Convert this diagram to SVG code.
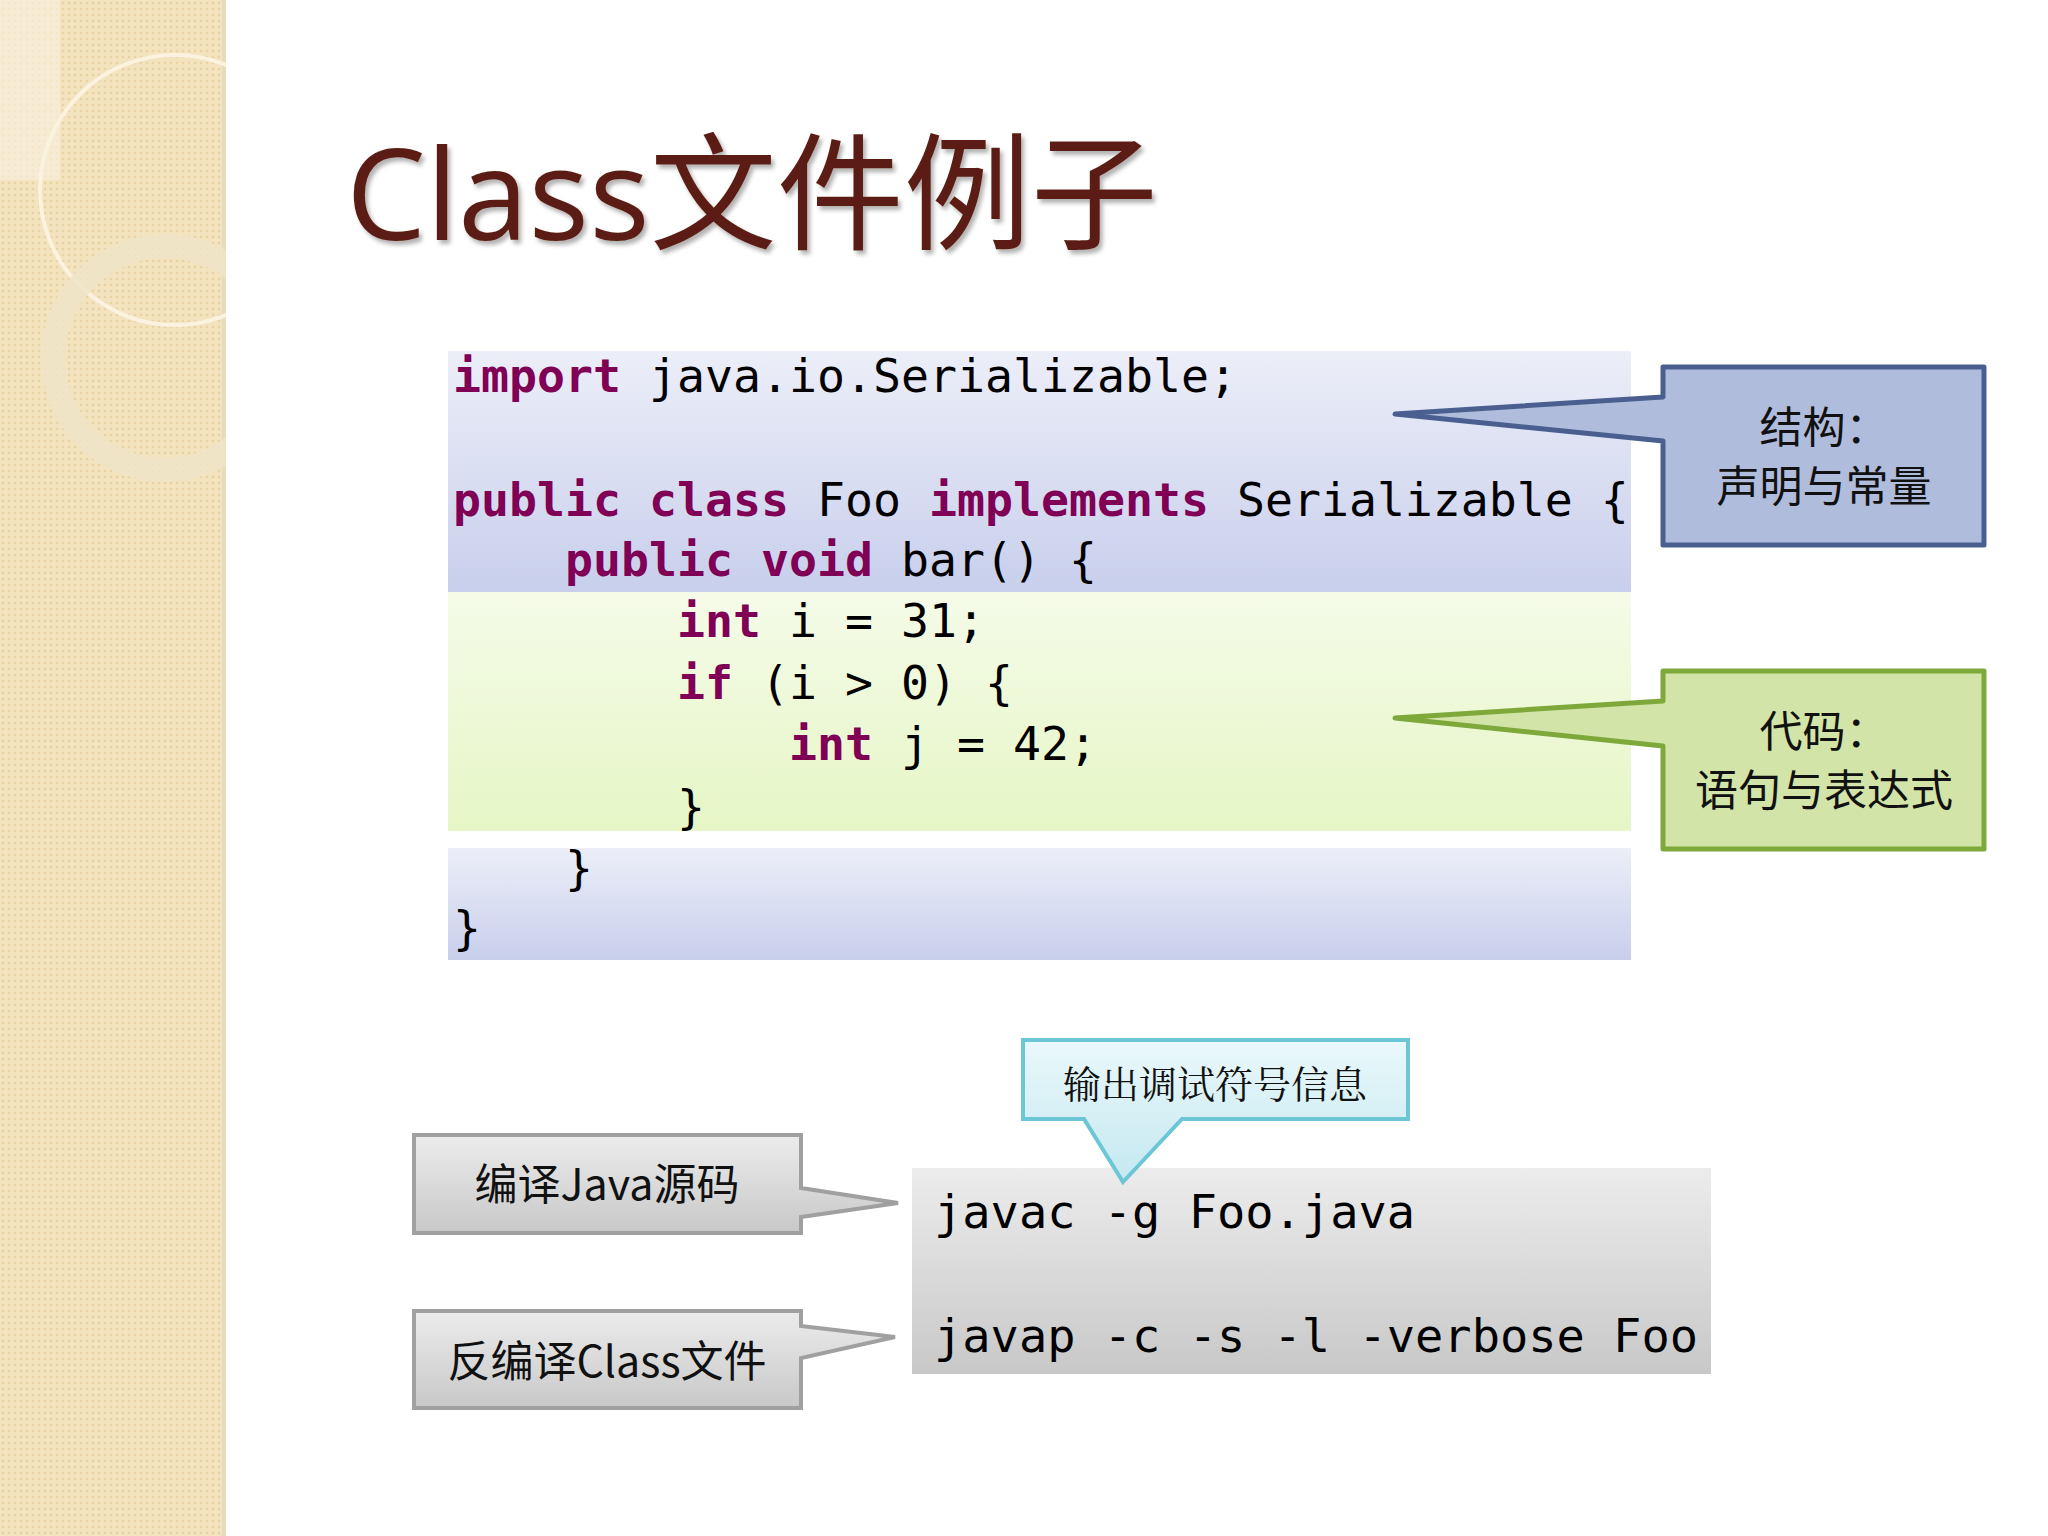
<svg xmlns="http://www.w3.org/2000/svg" width="2048" height="1536" viewBox="0 0 2048 1536">
<defs>
<linearGradient id="gb" x1="0" y1="0" x2="0" y2="1"><stop offset="0" stop-color="#eceef8"/><stop offset="1" stop-color="#c8cfec"/></linearGradient>
<linearGradient id="gg" x1="0" y1="0" x2="0" y2="1"><stop offset="0" stop-color="#f5fbe8"/><stop offset="1" stop-color="#e6f6c6"/></linearGradient>
<linearGradient id="gy" x1="0" y1="0" x2="0" y2="1"><stop offset="0" stop-color="#ececec"/><stop offset="1" stop-color="#c8c8c8"/></linearGradient>
<linearGradient id="gc" x1="0" y1="0" x2="0" y2="1"><stop offset="0" stop-color="#eaf8fb"/><stop offset="1" stop-color="#c4e8f0"/></linearGradient>
<pattern id="pt" width="6" height="6" patternUnits="userSpaceOnUse"><rect width="6" height="6" fill="#f3e3be"/><circle cx="3" cy="3" r="1.3" fill="#e8d3a4"/></pattern>
<filter id="sh"><feDropShadow dx="3" dy="4" stdDeviation="2" flood-color="#000" flood-opacity="0.3"/></filter>
<clipPath id="cs"><rect x="0" y="0" width="226" height="1536"/></clipPath>
</defs>
<style>
.code{font-family:"DejaVu Sans Mono","Liberation Mono",monospace;font-size:46.5px;fill:#000}
.kw{fill:#7f0055;font-weight:bold}
.cj{font-family:"Noto Sans CJK SC","Liberation Sans",sans-serif;font-size:43px;fill:#111;text-anchor:middle}
</style>
<rect width="2048" height="1536" fill="#fff"/>
<g id="strip">
<rect x="0" y="0" width="226" height="1536" fill="url(#pt)"/>
<rect x="222" y="0" width="4" height="1536" fill="#e8dcc0"/>
<g clip-path="url(#cs)">
<rect x="0" y="0" width="60" height="180" fill="#f8f0dc" opacity="0.7"/>
<circle cx="175" cy="190" r="135" fill="none" stroke="#fbf3e0" stroke-width="4"/>
<circle cx="165" cy="358" r="112" fill="none" stroke="#efe3c8" stroke-width="24" opacity="0.9"/>
</g>
</g>
<text x="346" y="240" font-family="Open Sans,'Noto Sans CJK SC',sans-serif" font-size="127" fill="#5b1f12" filter="url(#sh)">Class文件例子</text>
<g id="code">
<rect x="448" y="351" width="1183" height="241" fill="url(#gb)"/>
<rect x="448" y="592" width="1183" height="239" fill="url(#gg)"/>
<rect x="448" y="848" width="1183" height="112" fill="url(#gb)"/>
<text class="code" xml:space="preserve"><tspan x="453" y="392"><tspan class="kw">import</tspan> java.io.Serializable;</tspan><tspan x="453" y="516"><tspan class="kw">public class</tspan> Foo <tspan class="kw">implements</tspan> Serializable {</tspan><tspan x="453" y="576">    <tspan class="kw">public void</tspan> bar() {</tspan><tspan x="453" y="637">        <tspan class="kw">int</tspan> i = 31;</tspan><tspan x="453" y="699">        <tspan class="kw">if</tspan> (i &gt; 0) {</tspan><tspan x="453" y="760">            <tspan class="kw">int</tspan> j = 42;</tspan><tspan x="453" y="823">        }</tspan><tspan x="453" y="884">    }</tspan><tspan x="453" y="944">}</tspan></text>
</g>
<g id="cmd">
<rect x="912" y="1168" width="799" height="206" fill="url(#gy)"/>
<text class="code" x="934" y="1228" style="font-size:47px">javac -g Foo.java</text>
<text class="code" x="934" y="1352" style="font-size:47px">javap -c -s -l -verbose Foo</text>
</g>
<g id="structure">
<path d="M1663,367 H1984 V545 H1663 V441 L1395,414 L1663,397 Z" fill="#b0bcdc" stroke="#4a5f8f" stroke-width="5" stroke-linejoin="round"/>
<text class="cj" x="1824" y="443">结构：</text>
<text class="cj" x="1824" y="502">声明与常量</text>
</g>
<g id="codecallout">
<path d="M1663,671 H1984 V849 H1663 V746 L1395,718 L1663,701 Z" fill="#d3e4a8" stroke="#7ea83a" stroke-width="5" stroke-linejoin="round"/>
<text class="cj" x="1824" y="747">代码：</text>
<text class="cj" x="1824" y="806">语句与表达式</text>
</g>
<g id="compile">
<path d="M414,1135 H801 V1188 L898,1203 L801,1217 V1233 H414 Z" fill="url(#gy)" stroke="#a0a0a0" stroke-width="4"/>
<text class="cj" x="607" y="1200">编译Java源码</text>
</g>
<g id="decompile">
<path d="M414,1311 H801 V1326 L895,1337 L801,1358 V1408 H414 Z" fill="url(#gy)" stroke="#a0a0a0" stroke-width="4"/>
<text class="cj" x="607" y="1377">反编译Class文件</text>
</g>
<g id="debug">
<path d="M1023,1040 H1408 V1119 H1182 L1123,1182 L1084,1119 H1023 Z" fill="url(#gc)" stroke="#6cc6d6" stroke-width="4"/>
<text x="1215" y="1098" font-family="'Noto Serif CJK SC','Noto Sans CJK SC',serif" font-size="38" fill="#111" text-anchor="middle">输出调试符号信息</text>
</g>
<g id="connectors"/>
</svg>
